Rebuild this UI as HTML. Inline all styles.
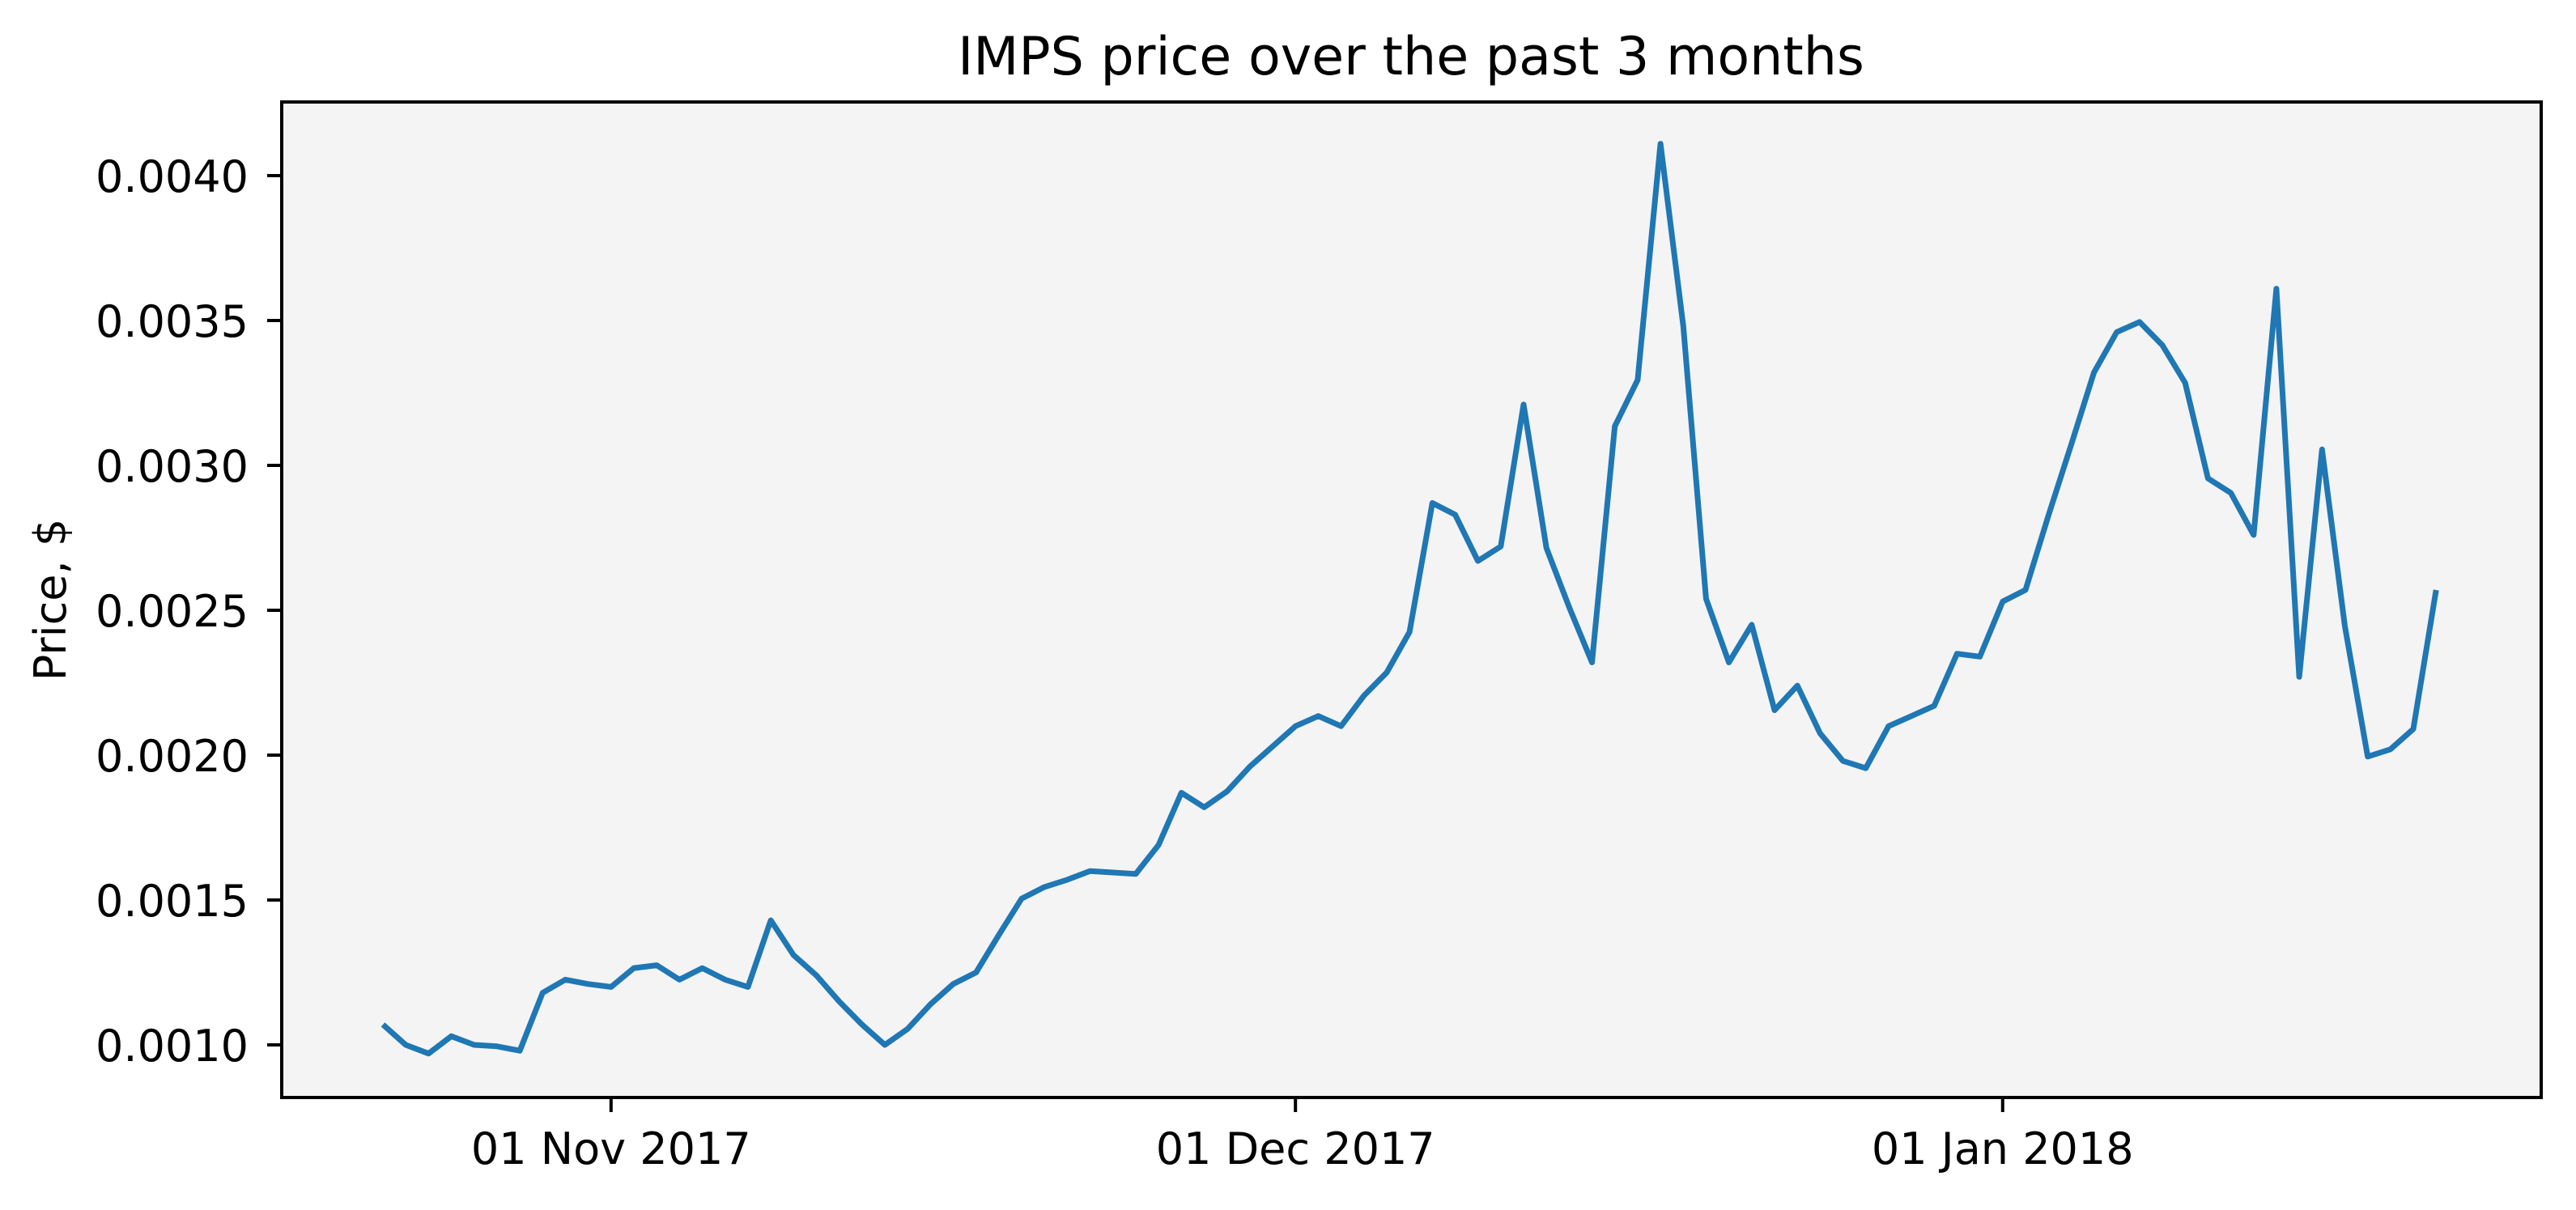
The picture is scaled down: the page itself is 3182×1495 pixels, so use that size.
<!DOCTYPE html>
<html><head><meta charset="utf-8"><style>
html,body{margin:0;padding:0;background:#fff;}
svg text{font-family:"DejaVu Sans","Liberation Sans",sans-serif;fill:#000;}
</style></head><body>
<svg id="chart" width="3182" height="1490" xmlns="http://www.w3.org/2000/svg">
<rect x="348" y="126" width="2791" height="1230" fill="#f4f4f4"/>
<g id="marks"></g>
<g id="axes"></g>
<rect x="348" y="126" width="2791" height="1230" fill="none" stroke="#000" stroke-width="4"/>
<text x="1743" y="92" font-size="65" text-anchor="middle">IMPS price over the past 3 months</text>
<text transform="translate(81,741) rotate(-90)" font-size="54" text-anchor="middle">Price, $</text>
</svg>
<script>
const startDay = 0; // Oct 22 2017 as day 0
const prices = [1.07,1.00,0.97,1.03,1.00,0.995,0.98,1.18,1.225,1.21,
1.20,1.265,1.275,1.225,1.265,1.225,1.20,1.43,1.31,1.24,1.15,1.07,1.00,1.055,1.14,1.21,1.25,1.38,1.505,1.545,1.57,1.60,1.595,1.59,1.69,1.87,1.82,1.875,1.96,2.03,
2.10,2.135,2.10,2.205,2.285,2.425,2.87,2.83,2.67,2.72,3.21,2.715,2.51,2.32,3.135,3.295,4.11,3.48,2.54,2.32,2.45,2.155,2.24,2.075,1.98,1.955,2.10,2.135,2.17,2.35,2.34,
2.53,2.57,2.825,3.07,3.32,3.46,3.495,3.415,3.285,2.955,2.905,2.76,3.61,2.27,3.055,2.445,1.995,2.02,2.09,2.57];
const yTicks = [0.0010,0.0015,0.0020,0.0025,0.0030,0.0035,0.0040];
const yTickLabels = ["0.0010","0.0015","0.0020","0.0025","0.0030","0.0035","0.0040"];
const xTickDays = [10,40,71];
const xTickLabels = ["01 Nov 2017","01 Dec 2017","01 Jan 2018"];

const NS="http://www.w3.org/2000/svg";
function xScale(d){return 473 + d*28.18;}
function yScale(v){return 217 + (0.0040 - v)/0.0005*179;}
const marks=document.getElementById('marks'), axes=document.getElementById('axes');
const pts = prices.map((p,i)=>xScale(startDay+i).toFixed(1)+','+yScale(p/1000).toFixed(1)).join(' ');
const line=document.createElementNS(NS,'polyline');
line.setAttribute('points',pts);
line.setAttribute('fill','none');line.setAttribute('stroke','#1f77b4');line.setAttribute('stroke-width','7');line.setAttribute('stroke-linejoin','round');


marks.appendChild(line);
yTicks.forEach((v,i)=>{
  const y=yScale(v);
  const t=document.createElementNS(NS,'line');
  t.setAttribute('x1',330);t.setAttribute('x2',348);t.setAttribute('y1',y);t.setAttribute('y2',y);t.setAttribute('stroke','#000');t.setAttribute('stroke-width','4');
  
  
  axes.appendChild(t);
  const tx=document.createElementNS(NS,'text');
  tx.setAttribute('x',307);tx.setAttribute('y',y+20);tx.setAttribute('font-size','54');tx.setAttribute('text-anchor','end');
  tx.textContent=yTickLabels[i];
  
  
  axes.appendChild(tx);
});
xTickDays.forEach((d,i)=>{
  const x=xScale(d);
  const t=document.createElementNS(NS,'line');
  t.setAttribute('x1',x);t.setAttribute('x2',x);t.setAttribute('y1',1356);t.setAttribute('y2',1374);t.setAttribute('stroke','#000');t.setAttribute('stroke-width','4');
  
  
  axes.appendChild(t);
  const tx=document.createElementNS(NS,'text');
  tx.setAttribute('x',x);tx.setAttribute('y',1438);tx.setAttribute('font-size','54');tx.setAttribute('text-anchor','middle');
  tx.textContent=xTickLabels[i];
  
  
  axes.appendChild(tx);
});
</script>
</body></html>
